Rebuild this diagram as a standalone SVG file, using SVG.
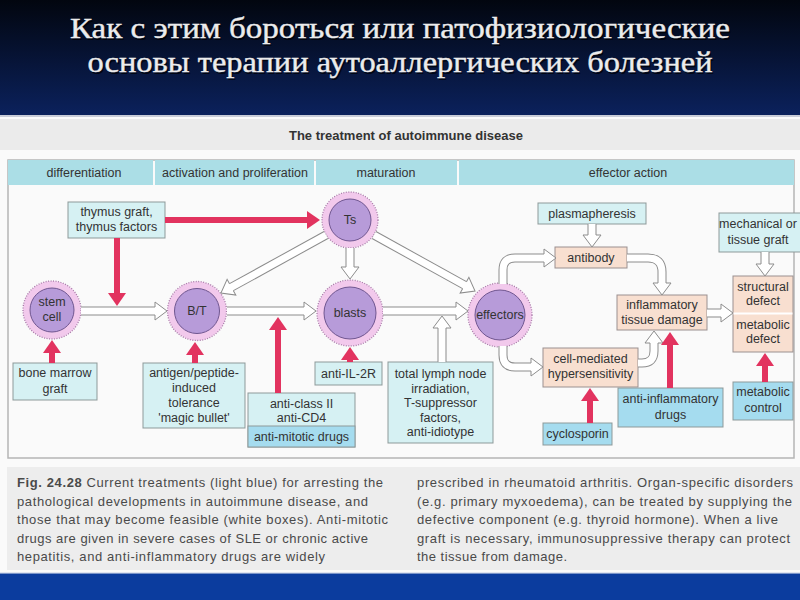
<svg xmlns="http://www.w3.org/2000/svg" width="800" height="600" viewBox="0 0 800 600">
<defs>
<linearGradient id="topg" x1="0" y1="0" x2="0" y2="1">
<stop offset="0" stop-color="#02060f"/>
<stop offset="1" stop-color="#0b215c"/>
</linearGradient>
<marker id="rh" markerUnits="userSpaceOnUse" markerWidth="14" markerHeight="20" viewBox="0 -10 14 20" refX="1" refY="0" orient="auto">
<path d="M0,-9L13,0L0,9z" fill="#e2335f"/>
</marker>
<style>
.hs{fill:none;stroke:#8c8c8c;stroke-width:9}
.hw{fill:none;stroke:#ffffff;stroke-width:7}
.hh{fill:#ffffff;stroke:#8c8c8c;stroke-width:1;stroke-linejoin:miter}
.red{stroke:#e2335f;stroke-width:6;fill:none;marker-end:url(#rh)}
.bx{fill:#d6f1f3;stroke:#8d9999;stroke-width:1}
.bb{fill:#a5dcef;stroke:#8d9999;stroke-width:1}
.pe{fill:#f8dfd0;stroke:#9a9090;stroke-width:1}
.hd{fill:#abdee6}
.t{font-family:"Liberation Sans",Arial,sans-serif;font-size:12.5px;fill:#333;text-anchor:middle}
.ring{fill:#f2c9ec;stroke:#a87aa8;stroke-width:1.3;stroke-dasharray:1 1.5}
.core{fill:#b79bd9;stroke:#6f5690;stroke-width:1}
.cap{font-family:"Liberation Sans",Arial,sans-serif;font-size:13px;fill:#4a4a4a}
.ttl{font-family:"Liberation Serif","DejaVu Serif",serif;font-size:29px;fill:#ececec;text-anchor:middle;stroke:#ececec;stroke-width:0.4}
.tsh{font-family:"Liberation Serif","DejaVu Serif",serif;font-size:29px;fill:#000000;text-anchor:middle;opacity:0.7}
</style>
</defs>

<rect x="0" y="0" width="800" height="600" fill="#fafafa"/>
<rect x="0" y="0" width="800" height="115" fill="url(#topg)"/>
<rect x="0" y="115" width="800" height="2" fill="#c8ccd8"/>
<text class="tsh" x="401.5" y="39.5" textLength="660" lengthAdjust="spacingAndGlyphs">Как с этим бороться или патофизиологические</text>
<text class="tsh" x="401.5" y="73.5" textLength="625" lengthAdjust="spacingAndGlyphs">основы терапии аутоаллергических болезней</text>
<text class="ttl" x="400" y="38" textLength="660" lengthAdjust="spacingAndGlyphs">Как с этим бороться или патофизиологические</text>
<text class="ttl" x="400" y="72" textLength="625" lengthAdjust="spacingAndGlyphs">основы терапии аутоаллергических болезней</text>

<rect x="0" y="119" width="800" height="31" fill="#ebebeb"/>
<text x="406" y="140" style="font-family:'Liberation Sans',Arial,sans-serif;font-size:13px;font-weight:bold;fill:#333;text-anchor:middle">The treatment of autoimmune disease</text>

<g id="frame">
<rect x="8" y="160" width="786" height="298" fill="none" stroke="#b5b5b5" stroke-width="1.5"/>
<rect class="hd" x="8" y="160" width="145" height="25"/>
<rect class="hd" x="155" y="160" width="159" height="25"/>
<rect class="hd" x="316" y="160" width="141" height="25"/>
<rect class="hd" x="459" y="160" width="335" height="25"/>
<text class="t" x="84" y="177">differentiation</text>
<text class="t" x="235" y="177">activation and proliferation</text>
<text class="t" x="386" y="177">maturation</text>
<text class="t" x="628" y="177">effector action</text>
</g>

<g id="stem">
<circle class="ring" cx="52" cy="310" r="29"/>
<circle class="core" cx="52" cy="310" r="22"/>
<text class="t" x="52" y="306">stem</text>
<text class="t" x="52" y="321">cell</text>
</g>
<g id="bt">
<circle class="ring" cx="197" cy="311" r="29.5"/>
<circle class="core" cx="197" cy="311" r="22.5"/>
<text class="t" x="197" y="315">B/T</text>
</g>
<g id="ts">
<circle class="ring" cx="350" cy="220" r="28"/>
<circle class="core" cx="350" cy="220" r="21"/>
<text class="t" x="350" y="224">Ts</text>
</g>
<g id="blasts">
<circle class="ring" cx="350" cy="313" r="33"/>
<circle class="core" cx="350" cy="313" r="26"/>
<text class="t" x="350" y="317">blasts</text>
</g>
<g id="effectors">
<circle class="ring" cx="500" cy="315" r="32"/>
<circle class="core" cx="500" cy="315" r="25"/>
<text class="t" x="500" y="319">effectors</text>
</g>

<g id="thymus">
<rect class="bx" x="68" y="202" width="97" height="36"/>
<text class="t" x="116.5" y="216">thymus graft,</text>
<text class="t" x="116.5" y="231">thymus factors</text>
</g>
<g id="bonemarrow">
<rect class="bx" x="13" y="363" width="84" height="37"/>
<text class="t" x="55" y="377">bone marrow</text>
<text class="t" x="55" y="393">graft</text>
</g>
<g id="antigen">
<rect class="bx" x="143" y="363" width="102" height="65"/>
<text class="t" x="194" y="377">antigen/peptide-</text>
<text class="t" x="194" y="392">induced</text>
<text class="t" x="194" y="407">tolerance</text>
<text class="t" x="194" y="422">'magic bullet'</text>
</g>
<g id="anticlass">
<rect class="bx" x="248" y="393" width="107" height="54"/>
<rect class="bb" x="248" y="426" width="107" height="21"/>
<text class="t" x="301.5" y="408">anti-class II</text>
<text class="t" x="301.5" y="422">anti-CD4</text>
<text class="t" x="301.5" y="441">anti-mitotic drugs</text>
</g>
<g id="antiil2r">
<rect class="bx" x="315" y="362" width="67" height="23"/>
<text class="t" x="348.5" y="378">anti-IL-2R</text>
</g>
<g id="lymph">
<rect class="bx" x="388" y="362" width="105" height="81"/>
<text class="t" x="440.5" y="378">total lymph node</text>
<text class="t" x="440.5" y="392.5">irradiation,</text>
<text class="t" x="440.5" y="407">T-suppressor</text>
<text class="t" x="440.5" y="421.5">factors,</text>
<text class="t" x="440.5" y="436">anti-idiotype</text>
</g>
<g id="plasmapheresis">
<rect class="bx" x="538" y="203" width="108" height="21"/>
<text class="t" x="592" y="218">plasmapheresis</text>
</g>
<g id="antibody">
<rect class="pe" x="555" y="247" width="72" height="21"/>
<text class="t" x="591" y="262">antibody</text>
</g>
<g id="inflammatory">
<rect class="pe" x="617" y="295" width="90" height="35"/>
<text class="t" x="662" y="309">inflammatory</text>
<text class="t" x="662" y="324">tissue damage</text>
</g>
<g id="cellmediated">
<rect class="pe" x="543" y="348" width="95" height="39"/>
<text class="t" x="590.5" y="363">cell-mediated</text>
<text class="t" x="590.5" y="378">hypersensitivity</text>
</g>
<g id="cyclosporin">
<rect class="bb" x="543" y="423" width="69" height="22"/>
<text class="t" x="577.5" y="438">cyclosporin</text>
</g>
<g id="antiinflammatory">
<rect class="bb" x="618" y="388" width="105" height="39"/>
<text class="t" x="670.5" y="403">anti-inflammatory</text>
<text class="t" x="670.5" y="419">drugs</text>
</g>
<g id="mechanical">
<rect class="bx" x="719" y="213" width="84" height="39"/>
<text class="t" x="758" y="228">mechanical or</text>
<text class="t" x="758" y="244">tissue graft</text>
</g>
<g id="defect">
<rect class="pe" x="733" y="276" width="60" height="76"/>
<line x1="733.5" y1="313.5" x2="792.5" y2="313.5" stroke="#ffffff" stroke-width="2"/>
<text class="t" x="763" y="291">structural</text>
<text class="t" x="763" y="305">defect</text>
<text class="t" x="763" y="329">metabolic</text>
<text class="t" x="763" y="343">defect</text>
</g>
<g id="metaboliccontrol">
<rect class="bb" x="733" y="382" width="60" height="38"/>
<text class="t" x="763" y="396">metabolic</text>
<text class="t" x="763" y="412">control</text>
</g>

<g id="connectors">
<g transform="translate(81,311)"><path class="hs" d="M0,0H75"/><path class="hw" d="M0,0H75"/><path class="hh" d="M74,-4V-9L86,0L74,9V4"/></g>
<g transform="translate(227,311)"><path class="hs" d="M0,0H78"/><path class="hw" d="M0,0H78"/><path class="hh" d="M77,-4V-9L89,0L77,9V4"/></g>
<g transform="translate(383,311)"><path class="hs" d="M0,0H74"/><path class="hw" d="M0,0H74"/><path class="hh" d="M73,-4V-9L85,0L73,9V4"/></g>
<g transform="translate(326,235) rotate(151.1)"><path class="hs" d="M0,0H109"/><path class="hw" d="M0,0H109"/><path class="hh" d="M108,-4V-9L120,0L108,9V4"/></g>
<g transform="translate(350,248) rotate(90)"><path class="hs" d="M0,0H20"/><path class="hw" d="M0,0H20"/><path class="hh" d="M19,-4V-9L31,0L19,9V4"/></g>
<g transform="translate(374,235) rotate(29)"><path class="hs" d="M0,0H104.5"/><path class="hw" d="M0,0H104.5"/><path class="hh" d="M103.5,-4V-9L115.5,0L103.5,9V4"/></g>
<g transform="translate(442,362) rotate(-90)"><path class="hs" d="M0,0H35"/><path class="hw" d="M0,0H35"/><path class="hh" d="M34,-4V-9L46,0L34,9V4"/></g>
<g transform="translate(592,224) rotate(90)"><path class="hs" d="M0,0H12"/><path class="hw" d="M0,0H12"/><path class="hh" d="M11,-4V-9L23,0L11,9V4"/></g>
<g transform="translate(765,252) rotate(90)"><path class="hs" d="M0,0H13"/><path class="hw" d="M0,0H13"/><path class="hh" d="M12,-4V-9L24,0L12,9V4"/></g>
<g transform="translate(707,313)"><path class="hs" d="M0,0H15"/><path class="hw" d="M0,0H15"/><path class="hh" d="M14,-4V-9L26,0L14,9V4"/></g>

<path class="hs" d="M503,284V270Q503,258 515,258H545"/><path class="hw" d="M503,284V270Q503,258 515,258H545"/>
<path class="hh" d="M544,254V249L556,258L544,267V262"/>
<path class="hs" d="M627,258H648Q662,258 662,272V284"/><path class="hw" d="M627,258H648Q662,258 662,272V284"/>
<path class="hh" d="M658,283H653L662,295L671,283H666"/>
<path class="hs" d="M503,346V355Q503,367 515,367H532"/><path class="hw" d="M503,346V355Q503,367 515,367H532"/>
<path class="hh" d="M531,363V358L543,367L531,376V371"/>
<path class="hs" d="M638,363H642Q654,363 654,351V342"/><path class="hw" d="M638,363H642Q654,363 654,351V342"/>
<path class="hh" d="M650,343H645L654,331L663,343H658"/>

<line class="red" x1="165" y1="220" x2="308" y2="220"/>
<line class="red" x1="117" y1="238" x2="117" y2="294"/>
<line class="red" x1="52" y1="363" x2="52" y2="352"/>
<line class="red" x1="195" y1="363" x2="195" y2="354"/>
<line class="red" x1="278" y1="393" x2="278" y2="329"/>
<line class="red" x1="350" y1="362" x2="350" y2="359"/>
<line class="red" x1="590" y1="423" x2="590" y2="400"/>
<line class="red" x1="670" y1="388" x2="670" y2="344"/>
<line class="red" x1="765" y1="382" x2="765" y2="365"/>
</g>

<rect x="7" y="467" width="793" height="103" fill="#ededed"/>
<g id="caption">
<text class="cap" x="17" y="487" textLength="366"><tspan font-weight="bold">Fig. 24.28</tspan> Current treatments (light blue) for arresting the</text>
<text class="cap" x="17" y="505.5" textLength="351">pathological developments in autoimmune disease, and</text>
<text class="cap" x="17" y="524" textLength="371">those that may become feasible (white boxes). Anti-mitotic</text>
<text class="cap" x="17" y="542.5" textLength="351">drugs are given in severe cases of SLE or chronic active</text>
<text class="cap" x="17" y="561" textLength="308">hepatitis, and anti-inflammatory drugs are widely</text>
<text class="cap" x="417" y="487" textLength="376">prescribed in rheumatoid arthritis. Organ-specific disorders</text>
<text class="cap" x="417" y="505.5" textLength="375">(e.g. primary myxoedema), can be treated by supplying the</text>
<text class="cap" x="417" y="524" textLength="361">defective component (e.g. thyroid hormone). When a live</text>
<text class="cap" x="417" y="542.5" textLength="373">graft is necessary, immunosuppressive therapy can protect</text>
<text class="cap" x="417" y="561" textLength="150">the tissue from damage.</text>
</g>
<rect x="0" y="572" width="800" height="1.5" fill="#dfe4f0"/>
<rect x="0" y="573.5" width="800" height="26.5" fill="#0b3c9e"/>
</svg>
